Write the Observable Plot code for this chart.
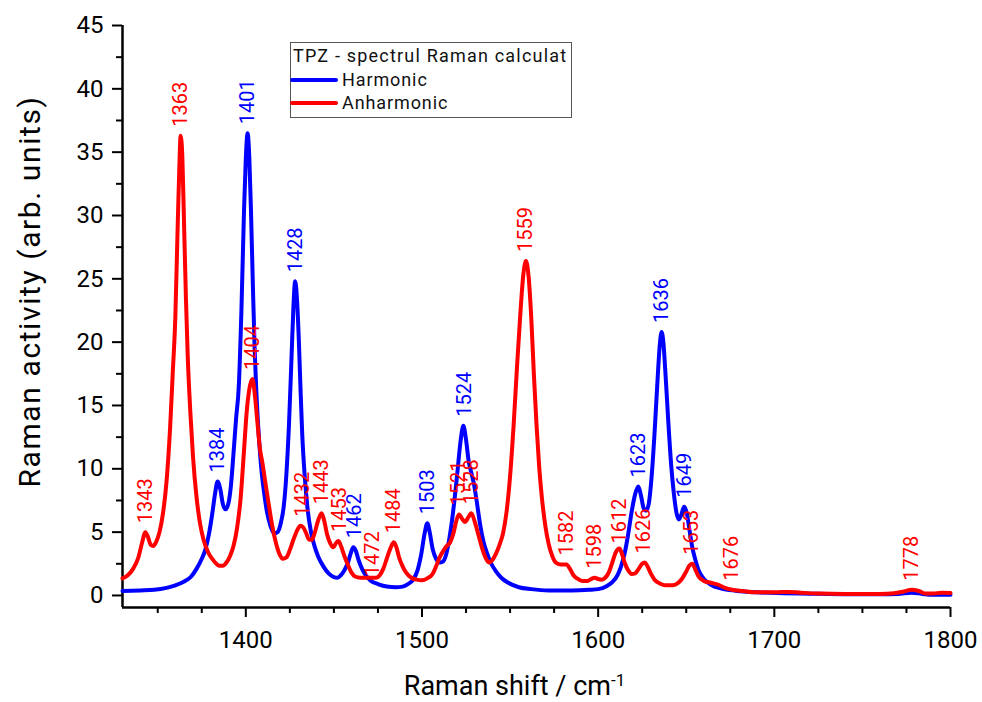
<!DOCTYPE html>
<html>
<head>
<meta charset="utf-8">
<script src="https://cdn.jsdelivr.net/npm/d3@7"></script>
<script src="https://cdn.jsdelivr.net/npm/@observablehq/plot@0.6"></script>
<style>
  body { margin: 0; background: #fff; }
  #wrap { position: relative; width: 982px; height: 702px; font-family: Roboto, "Noto Sans", sans-serif; }
  #legend { position: absolute; left: 290px; top: 42px; width: 282px; height: 76px; border: 1px solid #555; background: #fff; box-sizing: border-box; color: #111; font-size: 18px; }
  #legend .t { position: absolute; left: 2px; top: 2px; white-space: nowrap; letter-spacing: 1.2px; }
  #legend .sw { position: absolute; left: -1px; width: 48px; height: 4px; border-radius: 2px; }
  #legend .lb { position: absolute; left: 51px; white-space: nowrap; letter-spacing: 0.9px; }
</style>
</head>
<body>
<div id="wrap">
  <div id="chart"></div>
  <div id="legend">
    <div class="t">TPZ - spectrul Raman calculat</div>
    <div class="sw" style="top:35px;background:#0000ff"></div>
    <div class="lb" style="top:26px">Harmonic</div>
    <div class="sw" style="top:58px;background:#ff0000"></div>
    <div class="lb" style="top:49px">Anharmonic</div>
  </div>
</div>
<script>
// ---- data ----
const harmonic = [
  [1330,0.35],[1340,0.4],[1348,0.45],[1355,0.6],[1360,0.8],[1365,1.1],[1369,1.5],[1372,2.1],[1375,2.9],[1377,3.6],
  [1379,4.8],[1381,6.5],[1382.5,8.0],[1384,9.0],[1385.5,8.4],[1387,7.2],[1388.5,6.8],[1390,7.2],[1391.5,8.6],[1393,11.2],
  [1394.5,14.0],[1396,16.5],[1397.5,22.5],[1399,30.5],[1400,34.5],[1401,36.5],[1402,34.5],[1403,30],[1404,24.5],[1405,19.5],
  [1406,16],[1407.5,12.3],[1409,9.7],[1410.5,8.0],[1412,6.6],[1414,5.5],[1416,4.9],[1418,5.0],[1420,5.8],[1421.5,7.0],
  [1423,9.5],[1424.5,13.5],[1426,19],[1427,22.7],[1428,24.8],[1429,23.5],[1430,20.5],[1431,16.5],[1432,12.8],[1433.5,9.3],
  [1435,6.9],[1437,5.0],[1439,3.9],[1441,3.1],[1444,2.3],[1447,1.75],[1450,1.45],[1452,1.4],[1454,1.6],[1456,2.0],
  [1458,2.6],[1459.5,3.3],[1461,3.8],[1462.5,3.5],[1464,2.8],[1466,2.1],[1468,1.6],[1471,1.15],[1475,0.9],[1480,0.7],
  [1485,0.65],[1489,0.7],[1492,0.9],[1495,1.25],[1497.5,2.0],[1499.5,3.2],[1501.5,4.9],[1503,5.7],[1504.5,4.9],[1506,3.7],
  [1508,2.9],[1510,2.6],[1512,2.7],[1514,3.4],[1516,4.9],[1518,7.0],[1520,9.6],[1522,12.3],[1523.5,13.4],[1525,12.3],
  [1526.5,10.6],[1528,9.7],[1529.5,8.8],[1531,7.5],[1533,5.6],[1535,4.2],[1537,3.3],[1539,2.6],[1542,1.9],[1545,1.4],
  [1549,1.0],[1555,0.65],[1562,0.5],[1572,0.4],[1585,0.4],[1595,0.45],[1600,0.5],[1605,0.75],[1608,1.05],[1611,1.6],
  [1613,2.3],[1615,3.3],[1617,4.8],[1619,6.6],[1621,8.0],[1622.8,8.6],[1624.3,7.9],[1625.8,6.9],[1627.3,6.7],[1628.8,7.3],
  [1630.3,9.3],[1632,12.8],[1633.5,16.5],[1635,19.8],[1636,20.8],[1637,20.0],[1638.3,17.3],[1640,13.3],[1641.5,10.2],[1643,8.0],
  [1644.5,6.5],[1645.8,6.0],[1647,6.3],[1648.8,7.0],[1650.3,6.5],[1651.8,5.2],[1653.3,3.9],[1655,2.9],[1657,2.0],[1660,1.3],
  [1664,0.85],[1670,0.55],[1678,0.38],[1690,0.25],[1705,0.18],[1720,0.14],[1740,0.1],[1760,0.1],[1770,0.12],[1778,0.22],
  [1784,0.12],[1790,0.05],[1800,0.05]
];
const anharmonic = [
  [1330,1.35],[1333,1.6],[1336,2.1],[1339,3.0],[1341,4.1],[1343,5.0],[1344.5,4.6],[1346,4.0],[1347.5,3.9],[1349,4.2],
  [1351,5.0],[1353,6.5],[1355,9.0],[1357,13.2],[1358.5,17.5],[1360,22],[1361.2,28.5],[1362.2,33.5],[1363,36.3],[1364,34.5],
  [1365,29],[1366,23.5],[1367,19],[1368.5,14.5],[1370,11],[1372,7.8],[1374,5.7],[1376,4.4],[1379,3.3],[1382,2.7],
  [1385,2.35],[1387,2.35],[1389,2.6],[1391,3.1],[1393,3.9],[1395,5.3],[1397,7.6],[1399,11.5],[1400.5,14.5],[1402,16.3],
  [1403.8,17.1],[1405,16.0],[1406.5,13.8],[1408,11.6],[1409.5,10.4],[1411,9.0],[1413,7.2],[1415,5.5],[1417,4.2],[1419,3.3],
  [1421,2.9],[1423,3.0],[1425,3.6],[1427,4.4],[1429,5.1],[1431,5.5],[1432.5,5.4],[1434,5.0],[1436,4.4],[1437.5,4.4],
  [1439,4.9],[1441,5.9],[1443,6.5],[1444.5,5.9],[1446,4.9],[1448,4.1],[1449.8,3.8],[1451,4.1],[1452.6,4.3],[1454,3.9],
  [1456,3.1],[1458,2.4],[1460,1.8],[1462,1.5],[1465,1.4],[1470,1.4],[1474,1.4],[1476,1.6],[1478,2.1],[1480,2.9],
  [1482,3.7],[1484,4.2],[1485.5,3.8],[1487,3.0],[1489,2.3],[1491,1.8],[1494,1.4],[1497,1.25],[1500,1.2],[1503,1.35],
  [1506,1.7],[1508,2.3],[1510,3.0],[1512,3.5],[1514,3.9],[1516,4.2],[1518,5.0],[1519.5,5.9],[1521,6.4],[1523,6.0],
  [1524.5,5.8],[1526,6.1],[1528,6.5],[1530,5.8],[1532,4.8],[1534,3.8],[1536,3.0],[1538,2.6],[1540,2.8],[1542,3.3],
  [1544,4.0],[1546,4.9],[1548,6.6],[1550,9.4],[1552,13.4],[1554,18.2],[1556,22.6],[1557.5,25.3],[1559,26.4],[1560.5,25.2],
  [1562,22.0],[1563.5,17.5],[1565,13.5],[1566.5,10.2],[1568,7.8],[1570,5.5],[1572,4.0],[1574,3.1],[1576,2.6],[1579,2.45],
  [1582,2.45],[1584,2.1],[1586,1.6],[1588,1.35],[1591,1.15],[1594,1.15],[1596,1.3],[1598,1.4],[1600,1.3],[1602,1.25],
  [1604,1.4],[1606,1.8],[1608,2.6],[1610,3.4],[1612,3.7],[1613.5,3.3],[1615,2.6],[1617,2.0],[1619,1.7],[1621,1.75],
  [1623,2.1],[1625,2.5],[1626.5,2.6],[1628,2.3],[1630,1.7],[1632,1.25],[1635,0.95],[1638,0.8],[1642,0.8],[1645,0.95],
  [1647.5,1.3],[1650,1.9],[1652,2.4],[1653.5,2.5],[1655,2.1],[1657,1.5],[1660,1.15],[1664,1.0],[1668,0.85],[1672,0.6],
  [1676,0.45],[1682,0.35],[1690,0.25],[1700,0.25],[1708,0.28],[1715,0.22],[1725,0.15],[1740,0.12],[1760,0.12],[1768,0.18],
  [1773,0.3],[1778,0.45],[1782,0.35],[1786,0.15],[1790,0.15],[1795,0.22],[1800,0.2]
];
// peak annotations: [shift label, height where the label sits]
const harmonicPeaks = [[1384,9.0],[1401,36.5],[1428,24.8],[1462,3.8],[1503,5.7],[1524,13.4],[1623,8.6],[1636,20.8],[1649,7.0]];
const anharmonicPeaks = [[1343,5.0],[1363,36.3],[1404,17.1],[1432,5.5],[1443,6.5],[1453,4.3],[1472,0.8],[1484,4.2],[1521,6.4],
  [1528,6.5],[1559,26.4],[1582,2.45],[1598,1.4],[1612,3.4],[1626,2.6],[1653,2.5],[1676,0.45],[1778,0.45]];
const xMajor = [1400,1500,1600,1700,1800];
const xMinor = [1350,1375,1425,1450,1475,1525,1550,1575,1625,1650,1675,1725,1750,1775];
const yMajor = [0,5,10,15,20,25,30,35,40,45];
const yMinor = [2.5,7.5,12.5,17.5,22.5,27.5,32.5,37.5,42.5];
const xDomain = [1330,1800];
const yDomain = [-0.95,45];

const blue = "#0000ff", red = "#ff0000";
const toRows = a => a.map(([x, y]) => ({x, y}));
const toPeaks = a => a.map(([x, y]) => ({x, y, label: String(x)}));

const chart = Plot.plot({
  width: 982,
  height: 702,
  marginLeft: 122,
  marginRight: 32,
  marginTop: 25,
  marginBottom: 95,
  style: {fontFamily: "Roboto, 'Noto Sans', sans-serif", background: "#fff", color: "#000"},
  x: {domain: xDomain},
  y: {domain: yDomain},
  marks: [
    Plot.axisX({ticks: xMinor, tickSize: 6, tickFormat: () => "", strokeWidth: 2, label: null}),
    Plot.axisX({ticks: xMajor, tickSize: 10, tickPadding: 13, strokeWidth: 2, fontSize: 24, label: null, tickFormat: d => String(d)}),
    Plot.axisY({ticks: yMinor, tickSize: 6, tickFormat: () => "", strokeWidth: 2, label: null}),
    Plot.axisY({ticks: yMajor, tickSize: 10, tickPadding: 9, strokeWidth: 2, fontSize: 24, label: null, tickFormat: d => String(d)}),
    Plot.ruleY([yDomain[0]], {stroke: "#000", strokeWidth: 2.5}),
    Plot.ruleX([xDomain[0]], {stroke: "#000", strokeWidth: 2.5}),
    Plot.line(toRows(harmonic), {x: "x", y: "y", stroke: blue, strokeWidth: 4, curve: "monotone-x"}),
    Plot.line(toRows(anharmonic), {x: "x", y: "y", stroke: red, strokeWidth: 4, curve: "monotone-x"}),
    Plot.text(toPeaks(harmonicPeaks), {x: "x", y: "y", text: "label", fill: blue, rotate: -90, textAnchor: "start", lineAnchor: "middle", dy: -9, fontSize: 20}),
    Plot.text(toPeaks(anharmonicPeaks), {x: "x", y: "y", text: "label", fill: red, rotate: -90, textAnchor: "start", lineAnchor: "middle", dy: -9, fontSize: 20}),
    Plot.text(["Raman shift / cm"], {frameAnchor: "bottom", dy: 79, dx: -22, fontSize: 27, textAnchor: "middle", lineAnchor: "middle", fill: "#000"}),
    Plot.text(["Raman activity (arb. units)"], {frameAnchor: "left", dx: -92, dy: -25, rotate: -90, fontSize: 30, textAnchor: "middle", lineAnchor: "middle", fill: "#000"})
  ]
});
document.getElementById("chart").appendChild(chart);
// superscript -1 on the x title
d3.select(chart).selectAll("text").filter(function() { return this.textContent === "Raman shift / cm"; })
  .each(function() {
    d3.select(this).append("tspan").attr("dy", "-0.55em").attr("font-size", "17px").text("-1");
  });
// wider letter spacing on the y title, as in the reference
d3.select(chart).selectAll("text").filter(function() { return this.textContent === "Raman activity (arb. units)"; })
  .style("letter-spacing", "1.6px");
</script>
</body>
</html>
